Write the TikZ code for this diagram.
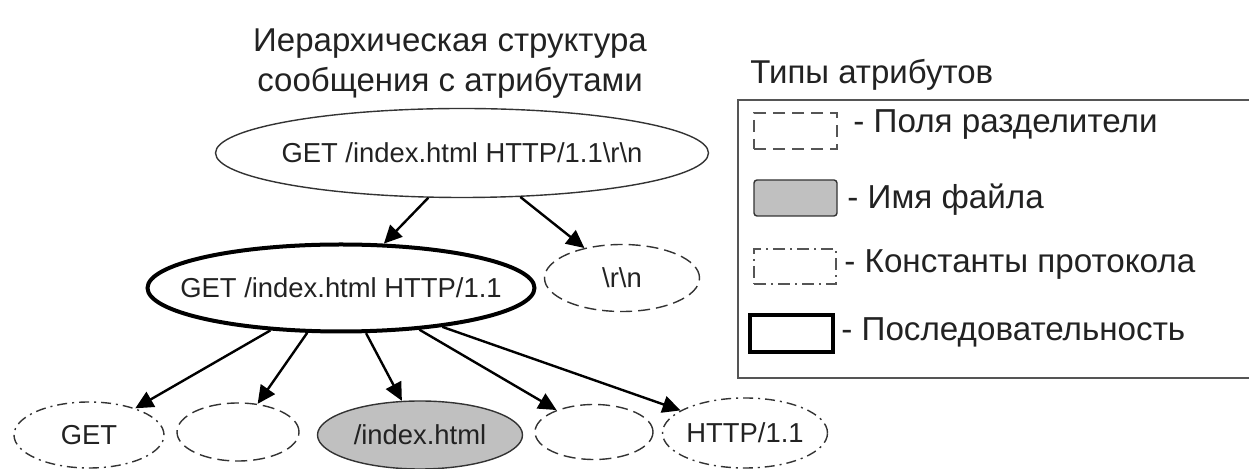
\documentclass[tikz,border=0pt]{standalone}
\usepackage{fontspec}
\setmainfont{Liberation Sans}
\usetikzlibrary{shapes.geometric,arrows.meta}
\definecolor{txt}{HTML}{222222}
\definecolor{edge}{HTML}{333333}
\definecolor{lite}{HTML}{555555}
\definecolor{grayfill}{HTML}{C0C0C0}
\tikzset{
  ell/.style={ellipse, inner sep=-40pt, text=txt, font=\fontsize{13.7}{16}\selectfont, draw=edge},
  plainell/.style={ell, line width=0.7pt},
  seqell/.style={ell, draw=black, line width=2pt},
  sepell/.style={ell, line width=0.7pt, dash pattern=on 6pt off 3pt},
  constell/.style={ell, line width=0.7pt, dash pattern=on 5pt off 2.5pt on 1pt off 2.5pt},
  fileell/.style={ell, line width=0.7pt, fill=grayfill},
  arr/.style={line width=1.2pt, -{Triangle[length=9pt,width=8.5pt]}},
  legtext/.style={anchor=west, text=txt, font=\fontsize{16.6}{19}\selectfont, inner sep=0pt},
  titletext/.style={text=txt, font=\fontsize{16.5}{20}\selectfont, align=center, inner sep=0pt},
}
\begin{document}
\begin{tikzpicture}[x=0.5pt,y=-0.5pt]
\useasboundingbox (0,0) rectangle (1249,469);
% titles
\node[titletext] (title) at (450,64) {Иерархическая структура\\сообщения с атрибутами};
\node[titletext, anchor=west] (ltitle) at (750,75) {Типы атрибутов};
% legend box
\draw[lite, line width=0.75pt] (1262,100) -- (738,100) -- (738,378) -- (1262,378);
\node[draw=lite, dash pattern=on 6pt off 3.5pt, line width=0.6pt, minimum width=41.5pt, minimum height=18pt, inner sep=0pt] (lsep) at (795.5,131) {};
\node[draw=edge, fill=grayfill, rounded corners=1.5pt, line width=0.7pt, minimum width=41.5pt, minimum height=18pt, inner sep=0pt] (lfile) at (795.5,198) {};
\node[draw=lite, dash pattern=on 6pt off 2.5pt on 1pt off 2.5pt, line width=0.6pt, minimum width=41pt, minimum height=17.5pt, inner sep=0pt] (lconst) at (795,266.5) {};
\node[draw=black, line width=2pt, minimum width=41.5pt, minimum height=18.5pt, inner sep=0pt] (lseq) at (791.5,333.5) {};
\node[legtext] (tsep) at (853,125) {- Поля разделители};
\node[legtext] (tfile) at (847,200) {- Имя файла};
\node[legtext] (tconst) at (844,265) {- Константы протокола};
\node[legtext] (tseq) at (841,332) {- Последовательность};
% tree
\node[plainell, minimum width=246.5pt, minimum height=44.5pt] (top) at (462,153) {GET /index.html HTTP/1.1\textbackslash r\textbackslash n};
\node[seqell, minimum width=193.5pt, minimum height=43.5pt] (seq) at (341,288) {GET /index.html HTTP/1.1};
\node[sepell, minimum width=77.5pt, minimum height=33.5pt] (rn) at (622,278) {\textbackslash r\textbackslash n};
\node[constell, minimum width=75pt, minimum height=33pt] (get) at (89,435) {GET};
\node[sepell, minimum width=61pt, minimum height=29pt] (sepa) at (238,432) {};
\node[fileell, minimum width=102.5pt, minimum height=34pt] (file) at (420,435) {/index.html};
\node[sepell, minimum width=59pt, minimum height=27.5pt] (sepb) at (594,432) {};
\node[constell, minimum width=82.5pt, minimum height=35pt] (http) at (745,433) {HTTP/1.1};
% connectors
\draw[arr] (top.233) -- (seq);
\draw[arr] (top.323.6) -- (rn);
\draw[arr] (seq.211) -- (get);
\draw[arr] (seq.233.5) -- (sepa);
\draw[arr] (seq.299.5) -- (file);
\draw[arr] (seq.332) -- (sepb);
\draw[arr] (seq.339.5) -- (http);
\end{tikzpicture}
\end{document}
